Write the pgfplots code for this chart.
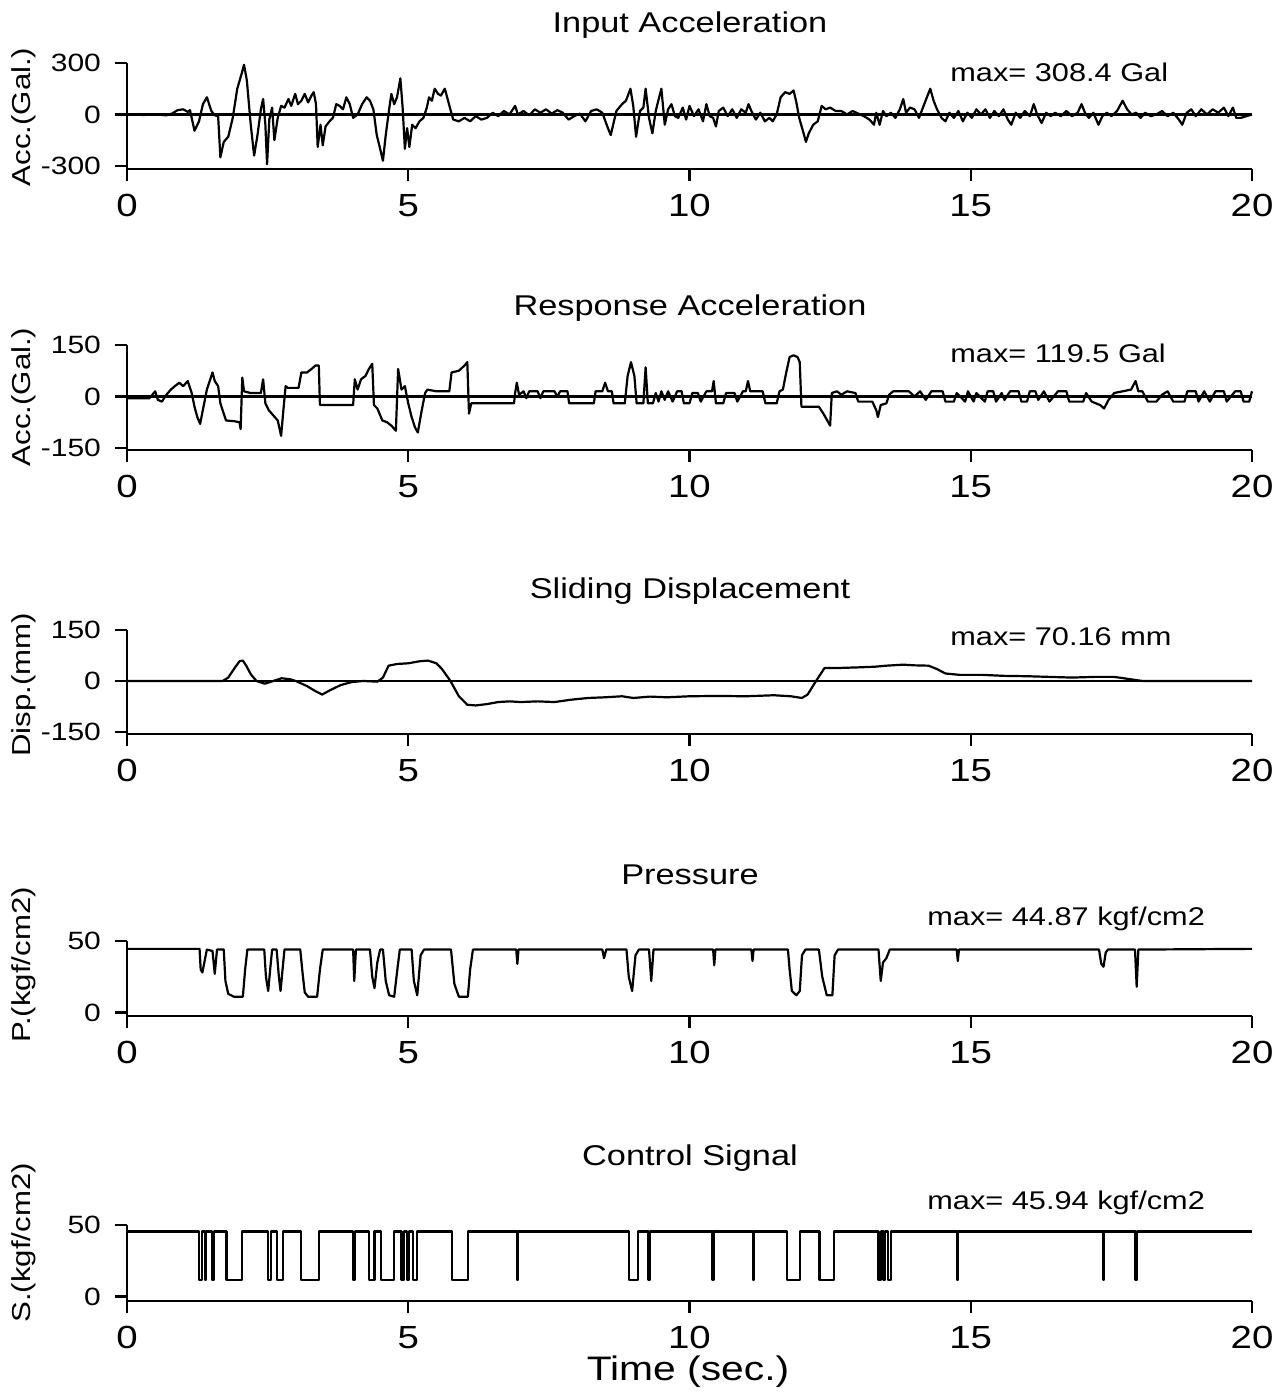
\documentclass[border=0pt]{standalone}
\usepackage{pgfplots}
\pgfplotsset{compat=1.18}
\usepackage{fontspec}
\setmainfont[FakeStretch=1.2]{Liberation Sans}
\newcommand{\fs}[1]{\fontsize{#1}{#1}\selectfont}
\pgfplotsset{
  panel/.style={
    scale only axis, width=562.5pt,
    xmin=0, xmax=20, anchor=south west,
    axis x line*=bottom, axis y line*=left,
    axis line style={line width=1.4pt},
    xtick={0,5,10,15,20}, xticklabels={0,5,10,15,20},
    tick align=outside, major tick length=6pt,
    every tick/.style={black, line width=1.2pt},
    xticklabel style={font=\fs{16}, yshift=-3pt},
    yticklabel style={font=\fs{12.5}, xshift=-3.5pt},
    clip=false,
  },
  sig/.style={black, line width=1.1pt, mark=none, line join=round},
  zl/.style={black, line width=1.4pt, mark=none},
}
\begin{document}
\begin{tikzpicture}
\useasboundingbox (0,0) rectangle (642.5pt,697pt);
% Panel 1
\begin{axis}[panel, at={(63.5pt,612.5pt)}, height=53pt, ymin=-318, ymax=300, ytick={-300,0,300}, yticklabels={-300,0,300}]
\addplot[zl] coordinates {(0,0) (20,0)};
\addplot[sig] coordinates {
(0,0) (0.3,-3) (0.5,0) (0.7,-5) (0.8,5) (0.9,25) (1.0,30) (1.08,15) (1.12,25) (1.2,-95) (1.28,-40) (1.35,60) (1.42,100) (1.5,20) (1.56,-5) (1.62,-10) (1.66,-250) (1.72,-160) (1.8,-130) (1.88,-20) (1.96,150) (2.04,240) (2.08,290) (2.13,200) (2.2,-60) (2.26,-240) (2.32,-120) (2.38,30) (2.42,90) (2.46,-60) (2.49,-290) (2.53,-30) (2.58,40) (2.62,-150) (2.68,-20) (2.74,50) (2.8,40) (2.87,90) (2.92,50) (2.99,120) (3.04,60) (3.1,80) (3.16,120) (3.22,70) (3.28,110) (3.32,130) (3.36,60) (3.39,-190) (3.44,-60) (3.48,-180) (3.53,-70) (3.6,-40) (3.66,-20) (3.72,60) (3.78,50) (3.84,30) (3.9,100) (3.96,60) (4.02,-20) (4.1,0) (4.18,60) (4.26,100) (4.32,80) (4.38,30) (4.44,-120) (4.5,-200) (4.55,-270) (4.6,-120) (4.66,30) (4.7,120) (4.75,60) (4.8,100) (4.86,210) (4.9,40) (4.94,-200) (4.98,-80) (5.02,-190) (5.07,-60) (5.13,-80) (5.2,-40) (5.27,-20) (5.33,40) (5.37,100) (5.42,80) (5.47,150) (5.53,120) (5.58,110) (5.65,150) (5.7,90) (5.74,40) (5.8,-30) (5.9,-40) (6.0,-20) (6.1,-40) (6.2,-10) (6.3,-30) (6.4,-20) (6.5,10) (6.6,-10) (6.7,20) (6.8,0) (6.9,50) (6.95,0) (7.05,20) (7.15,-5) (7.25,30) (7.35,10) (7.45,30) (7.55,5) (7.65,25) (7.75,10) (7.85,-30) (7.95,-10) (8.05,5) (8.15,-40) (8.25,20) (8.35,30) (8.45,10) (8.55,-80) (8.6,-120) (8.7,20) (8.8,60) (8.87,80) (8.95,150) (9.0,50) (9.05,-130) (9.12,20) (9.18,40) (9.22,150) (9.28,-20) (9.34,-110) (9.4,20) (9.46,100) (9.5,150) (9.56,-60) (9.62,30) (9.68,60) (9.74,-10) (9.8,-20) (9.88,40) (9.94,-30) (10.0,50) (10.08,-10) (10.16,30) (10.24,-40) (10.3,60) (10.36,-10) (10.42,-20) (10.47,-70) (10.52,20) (10.6,40) (10.68,-10) (10.76,30) (10.84,-20) (10.92,30) (11.0,10) (11.05,60) (11.1,20) (11.18,-30) (11.26,10) (11.34,-40) (11.42,-20) (11.48,-40) (11.55,0) (11.62,100) (11.7,130) (11.78,120) (11.85,140) (11.9,70) (11.95,-20) (12.02,-100) (12.07,-160) (12.12,-110) (12.2,-60) (12.28,-40) (12.35,50) (12.42,30) (12.5,40) (12.6,20) (12.7,20) (12.8,0) (12.9,20) (13.0,5) (13.1,-10) (13.2,-30) (13.28,-60) (13.32,10) (13.38,-60) (13.44,20) (13.5,-10) (13.58,10) (13.66,-20) (13.74,30) (13.8,90) (13.85,10) (13.92,40) (14.0,30) (14.08,-20) (14.15,40) (14.22,100) (14.28,150) (14.34,80) (14.4,30) (14.48,-20) (14.55,-40) (14.62,10) (14.7,-20) (14.78,20) (14.86,-40) (14.94,10) (15.02,-20) (15.1,30) (15.18,0) (15.26,30) (15.34,-20) (15.42,20) (15.5,-10) (15.58,30) (15.66,-30) (15.72,-60) (15.8,10) (15.88,-20) (15.96,20) (16.05,-10) (16.12,60) (16.18,0) (16.26,-50) (16.34,10) (16.42,-10) (16.5,10) (16.6,-10) (16.7,20) (16.8,-10) (16.9,10) (16.97,60) (17.03,10) (17.1,-20) (17.18,10) (17.27,-60) (17.34,-10) (17.42,10) (17.5,-10) (17.6,20) (17.7,80) (17.78,30) (17.86,0) (17.94,10) (18.02,-20) (18.1,10) (18.2,-10) (18.3,0) (18.4,20) (18.5,-10) (18.6,10) (18.7,-30) (18.76,-60) (18.84,10) (18.92,30) (19.0,-10) (19.1,30) (19.2,0) (19.3,30) (19.4,10) (19.5,40) (19.58,-10) (19.66,40) (19.72,-20) (19.8,-20) (19.9,-10) (20,0)
};
\end{axis}
% Panel 2
\begin{axis}[panel, at={(63.5pt,472pt)}, height=52.5pt, ymin=-156, ymax=150, ytick={-150,0,150}, yticklabels={-150,0,150}]
\addplot[zl] coordinates {(0,0) (20,0)};
\addplot[sig] coordinates {
(0,-5) (0.4,-5) (0.5,15) (0.55,-10) (0.62,-15) (0.7,5) (0.78,20) (0.85,30) (0.93,40) (1.0,30) (1.08,45) (1.15,10) (1.2,-30) (1.25,-60) (1.3,-80) (1.36,-30) (1.42,20) (1.48,50) (1.52,70) (1.56,45) (1.62,30) (1.66,-20) (1.72,-50) (1.76,-70) (1.9,-72) (2.0,-75) (2.02,-95) (2.05,55) (2.08,15) (2.2,10) (2.38,10) (2.42,50) (2.46,-20) (2.52,-40) (2.6,-55) (2.68,-70) (2.74,-115) (2.78,-40) (2.82,30) (2.86,25) (3.05,25) (3.1,70) (3.2,70) (3.28,80) (3.35,90) (3.41,90) (3.43,-25) (3.6,-25) (4.02,-25) (4.05,50) (4.1,20) (4.16,50) (4.24,60) (4.3,80) (4.36,95) (4.39,-25) (4.45,-35) (4.54,-70) (4.62,-75) (4.7,-85) (4.78,-100) (4.82,80) (4.88,20) (4.94,30) (5.0,-20) (5.06,-60) (5.12,-90) (5.17,-105) (5.24,-40) (5.3,10) (5.34,20) (5.5,15) (5.73,15) (5.77,70) (5.9,75) (6.0,90) (6.05,100) (6.08,-50) (6.12,-20) (6.5,-20) (6.88,-20) (6.9,10) (6.93,40) (6.97,5) (7.05,15) (7.1,-5) (7.15,15) (7.3,15) (7.35,-5) (7.4,15) (7.6,15) (7.65,0) (7.7,15) (7.83,15) (7.86,-20) (8.3,-20) (8.33,15) (8.45,15) (8.5,40) (8.55,15) (8.62,15) (8.65,-20) (8.85,-20) (8.9,60) (8.96,100) (9.02,60) (9.06,-20) (9.18,-20) (9.22,85) (9.26,-20) (9.35,-20) (9.4,10) (9.45,-15) (9.5,15) (9.56,-10) (9.62,15) (9.7,-15) (9.78,15) (9.86,15) (9.9,-20) (10.0,-20) (10.05,10) (10.15,10) (10.2,-15) (10.3,15) (10.4,15) (10.43,45) (10.47,-20) (10.6,-20) (10.65,10) (10.8,10) (10.85,-15) (10.95,15) (11.0,15) (11.04,45) (11.08,15) (11.3,15) (11.35,-20) (11.55,-20) (11.6,15) (11.66,20) (11.72,70) (11.78,115) (11.85,120) (11.92,115) (11.96,100) (11.99,-30) (12.3,-30) (12.38,-50) (12.45,-70) (12.5,-85) (12.53,10) (12.62,15) (12.7,5) (12.8,15) (12.95,10) (13.0,-15) (13.25,-15) (13.32,-40) (13.35,-60) (13.4,-25) (13.5,-20) (13.55,5) (13.62,15) (13.9,15) (14.0,0) (14.1,15) (14.2,-10) (14.3,15) (14.5,15) (14.55,-15) (14.7,-15) (14.75,10) (14.9,-15) (14.95,15) (15.05,-15) (15.1,10) (15.25,-15) (15.3,15) (15.4,15) (15.45,-15) (15.55,10) (15.6,-10) (15.7,15) (15.85,15) (15.9,-15) (16.0,-15) (16.05,15) (16.15,15) (16.2,-10) (16.3,15) (16.4,-15) (16.55,15) (16.7,15) (16.75,-15) (17.0,-15) (17.05,10) (17.15,-15) (17.3,-25) (17.37,-35) (17.45,-10) (17.55,10) (17.7,15) (17.85,20) (17.93,45) (17.98,15) (18.05,15) (18.15,-15) (18.3,-15) (18.4,5) (18.5,15) (18.6,-15) (18.8,-15) (18.85,15) (19.0,15) (19.05,-15) (19.15,15) (19.25,-15) (19.35,15) (19.5,15) (19.55,-15) (19.7,15) (19.8,15) (19.85,-15) (19.95,-15) (20,15)
};
\end{axis}
% Panel 3
\begin{axis}[panel, at={(63.5pt,330pt)}, height=52pt, ymin=-156, ymax=150, ytick={-150,0,150}, yticklabels={-150,0,150}]
\addplot[zl] coordinates {(0,0) (20,0)};
\addplot[sig] coordinates {
(0,0) (1.7,0) (1.8,10) (1.9,35) (2.0,58) (2.06,60) (2.12,45) (2.2,20) (2.3,0) (2.45,-8) (2.6,0) (2.75,8) (2.9,5) (3.0,0) (3.2,-15) (3.35,-30) (3.47,-40) (3.6,-28) (3.8,-12) (4.0,-3) (4.2,0) (4.45,-2) (4.55,10) (4.65,45) (4.8,50) (5.0,52) (5.2,58) (5.35,60) (5.5,52) (5.6,35) (5.75,0) (5.9,-45) (6.05,-70) (6.2,-72) (6.4,-68) (6.6,-62) (6.8,-60) (7.0,-62) (7.3,-60) (7.6,-62) (7.9,-55) (8.2,-50) (8.5,-48) (8.8,-45) (9.0,-50) (9.3,-46) (9.6,-48) (10.0,-45) (10.5,-44) (11.0,-45) (11.5,-42) (11.8,-45) (12.0,-50) (12.1,-40) (12.25,0) (12.4,38) (12.6,38) (13.0,40) (13.3,42) (13.5,45) (13.8,48) (14.0,46) (14.25,45) (14.4,35) (14.55,22) (14.8,18) (15.2,18) (15.6,15) (16.0,14) (16.4,12) (16.8,10) (17.2,12) (17.55,12) (17.8,6) (18.05,0) (20,0)
};
\end{axis}
% Panel 4
\begin{axis}[panel, at={(63.5pt,189pt)}, height=37.5pt, ymin=-2.5, ymax=50, ytick={0,50}, yticklabels={0,50}]
\addplot[sig] coordinates {
(0,44.5) (1.29,44.5) (1.31,30) (1.34,28) (1.38,36) (1.42,44) (1.52,43) (1.56,27) (1.6,44) (1.72,44) (1.75,22) (1.8,13) (1.9,11) (2.06,11) (2.1,30) (2.14,44) (2.44,44) (2.47,25) (2.51,15) (2.55,32) (2.58,44) (2.66,44) (2.7,25) (2.73,15) (2.77,32) (2.8,44) (3.08,44) (3.12,28) (3.16,14) (3.22,11) (3.38,11) (3.43,30) (3.48,44) (4.02,44) (4.04,22) (4.07,44) (4.32,44) (4.36,25) (4.4,17) (4.45,35) (4.5,44) (4.55,44) (4.6,22) (4.66,12) (4.75,11) (4.8,28) (4.85,44) (5.06,44) (5.1,22) (5.16,12) (5.22,40) (5.28,44) (5.76,44) (5.82,20) (5.9,11) (6.06,11) (6.1,30) (6.15,44) (6.92,44) (6.94,34) (6.96,44) (8.45,44) (8.48,38) (8.52,44) (8.88,44) (8.92,25) (8.98,15) (9.04,40) (9.1,44) (9.28,44) (9.32,22) (9.36,44) (10.42,44) (10.44,33) (10.46,44) (11.1,44) (11.12,36) (11.14,44) (11.75,44) (11.78,30) (11.82,15) (11.9,12) (11.96,15) (12.0,40) (12.06,44) (12.3,44) (12.36,25) (12.44,12) (12.54,12) (12.58,40) (12.64,44) (13.36,44) (13.4,22) (13.44,35) (13.5,38) (13.56,44) (14.75,44) (14.77,36) (14.79,44) (17.28,44) (17.32,34) (17.36,32) (17.4,42) (17.44,44) (17.92,44) (17.95,18) (17.98,44) (20,44.5)
};
\end{axis}
% Panel 5
\begin{axis}[panel, at={(63.5pt,46.5pt)}, height=38pt, ymin=-3, ymax=50, ytick={0,50}, yticklabels={0,50}]
\addplot[sig] coordinates {
(0,45.5) (1.28,45.5) (1.28,11.5) (1.33,11.5) (1.33,45.5) (1.38,45.5) (1.38,11.5) (1.41,11.5) (1.41,45.5) (1.51,45.5) (1.51,11.5) (1.55,11.5) (1.55,45.5) (1.77,45.5) (1.77,11.5) (2.05,11.5) (2.05,45.5) (2.51,45.5) (2.51,11.5) (2.56,11.5) (2.56,45.5) (2.67,45.5) (2.67,11.5) (2.77,11.5) (2.77,45.5) (3.09,45.5) (3.09,11.5) (3.42,11.5) (3.42,45.5) (4.02,45.5) (4.02,11.5) (4.06,11.5) (4.06,45.5) (4.30,45.5) (4.30,11.5) (4.40,11.5) (4.40,45.5) (4.52,45.5) (4.52,11.5) (4.75,11.5) (4.75,45.5) (4.88,45.5) (4.88,11.5) (4.93,11.5) (4.93,45.5) (4.98,45.5) (4.98,11.5) (5.02,11.5) (5.02,45.5) (5.08,45.5) (5.08,11.5) (5.16,11.5) (5.16,45.5) (5.78,45.5) (5.78,11.5) (6.06,11.5) (6.06,45.5) (6.93,45.5) (6.93,11.5) (6.945,11.5) (6.945,45.5) (8.92,45.5) (8.92,11.5) (9.08,11.5) (9.08,45.5) (9.27,45.5) (9.27,11.5) (9.30,11.5) (9.30,45.5) (10.41,45.5) (10.41,11.5) (10.425,11.5) (10.425,45.5) (11.13,45.5) (11.13,11.5) (11.145,11.5) (11.145,45.5) (11.74,45.5) (11.74,11.5) (11.96,11.5) (11.96,45.5) (12.31,45.5) (12.31,11.5) (12.57,11.5) (12.57,45.5) (13.36,45.5) (13.36,11.5) (13.40,11.5) (13.40,45.5) (13.45,45.5) (13.45,11.5) (13.48,11.5) (13.48,45.5) (13.53,45.5) (13.53,11.5) (13.58,11.5) (13.58,45.5) (14.76,45.5) (14.76,11.5) (14.775,11.5) (14.775,45.5) (17.36,45.5) (17.36,11.5) (17.375,11.5) (17.375,45.5) (17.93,45.5) (17.93,11.5) (17.95,11.5) (17.95,45.5) (20,45.5)
};
\end{axis}
% titles
\node[font=\fs{14.3}] at (345pt,684.5pt) {Input Acceleration};
\node[font=\fs{14.3}] at (345pt,543pt) {Response Acceleration};
\node[font=\fs{14.3}] at (345pt,401.5pt) {Sliding Displacement};
\node[font=\fs{14.3}] at (345pt,259.5pt) {Pressure};
\node[font=\fs{14.3}] at (345pt,118pt) {Control Signal};
% max labels
\node[font=\fs{12.8}, anchor=west, inner sep=0pt] at (475pt,661pt) {max= 308.4 Gal};
\node[font=\fs{12.8}, anchor=west, inner sep=0pt] at (475pt,520.5pt) {max= 119.5 Gal};
\node[font=\fs{12.8}, anchor=west, inner sep=0pt] at (475pt,378.5pt) {max= 70.16 mm};
\node[font=\fs{12.8}, anchor=west, inner sep=0pt] at (463.5pt,237.5pt) {max= 44.87 kgf/cm2};
\node[font=\fs{12.8}, anchor=west, inner sep=0pt] at (463.5pt,95.5pt) {max= 45.94 kgf/cm2};
% y labels
\node[font=\fs{13}, rotate=90] at (12pt,638.5pt) {Acc.(Gal.)};
\node[font=\fs{13}, rotate=90] at (12pt,498.5pt) {Acc.(Gal.)};
\node[font=\fs{13}, rotate=90] at (12pt,354.5pt) {Disp.(mm)};
\node[font=\fs{13}, rotate=90] at (12pt,214.5pt) {P.(kgf/cm2)};
\node[font=\fs{13}, rotate=90] at (12pt,75.5pt) {S.(kgf/cm2)};
% x label
\node[font=\fs{17}] at (344pt,11pt) {Time (sec.)};
\end{tikzpicture}
\end{document}
